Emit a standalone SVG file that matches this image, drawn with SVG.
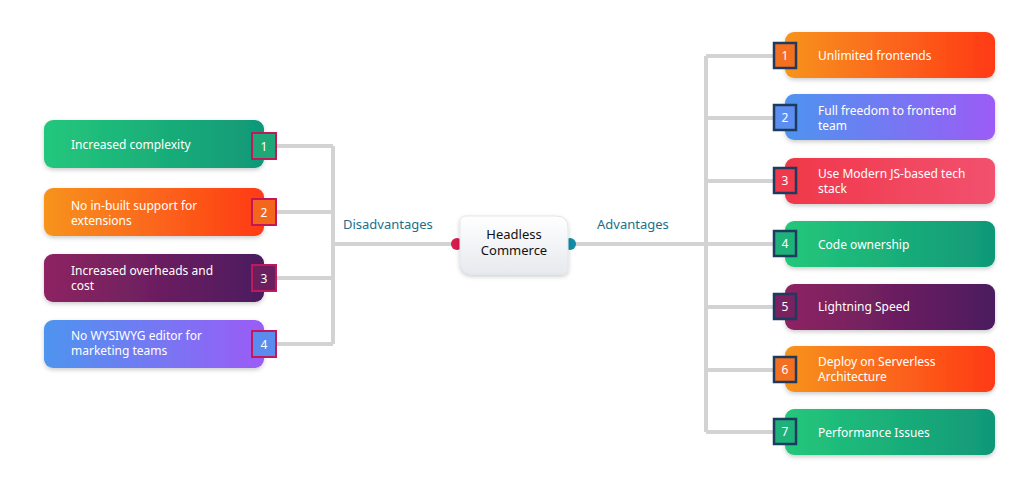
<svg xmlns="http://www.w3.org/2000/svg" width="1024" height="488" viewBox="0 0 1024 488">
<defs>
<linearGradient id="gGreen" x1="0" x2="1"><stop offset="0" stop-color="#24c77b"/><stop offset="1" stop-color="#109878"/></linearGradient>
<linearGradient id="gOrange" x1="0" x2="1"><stop offset="0" stop-color="#f7931e"/><stop offset="1" stop-color="#ff3a17"/></linearGradient>
<linearGradient id="gPurple" x1="0" x2="1"><stop offset="0" stop-color="#8e2462"/><stop offset="1" stop-color="#4b1a5e"/></linearGradient>
<linearGradient id="gBlue" x1="0" x2="1"><stop offset="0" stop-color="#4e94ef"/><stop offset="1" stop-color="#9b5cf6"/></linearGradient>
<linearGradient id="gRed" x1="0" x2="1"><stop offset="0" stop-color="#f0384a"/><stop offset="1" stop-color="#f2516f"/></linearGradient>
<linearGradient id="gCenter" x1="0" y1="0" x2="0" y2="1"><stop offset="0" stop-color="#ffffff"/><stop offset="1" stop-color="#e6e9ee"/></linearGradient>
<filter id="sh" x="-10%" y="-20%" width="120%" height="150%"><feDropShadow dx="0" dy="2" stdDeviation="2" flood-color="#000" flood-opacity="0.2"/></filter>
</defs>
<style>
.t{font-family:"Noto Sans","Liberation Sans",sans-serif;font-size:12px;fill:#fff}
.n{font-family:"Noto Sans","Liberation Sans",sans-serif;font-size:12px;fill:#fff;text-anchor:middle}
.lbl{font-family:"Noto Sans","Liberation Sans",sans-serif;font-size:13px;fill:#1b6f8a}
.c{font-family:"Noto Sans","Liberation Sans",sans-serif;font-size:13px;fill:#111;text-anchor:middle}
.ln{stroke:#d3d3d3;stroke-width:4;fill:none}
.bl{stroke:#c2185b;stroke-width:2}
.br{stroke:#1f3a5f;stroke-width:2.5}
</style>
<rect width="1024" height="488" fill="#fff"/>
<g id="connectors">
<path class="ln" d="M277 146H333M277 212H333M277 278H333M277 344H333M333 146V344M333 244H455"/>
<path class="ln" d="M572 244H706M706 56V432M706 56H773M706 118H773M706 181H773M706 244H773M706 307H773M706 370H773M706 432H773"/>
</g>
<text class="lbl" x="343" y="229">Disadvantages</text>
<text class="lbl" x="597" y="229">Advantages</text>
<g id="center">
<circle cx="457" cy="244" r="6" fill="#d81b4e"/>
<circle cx="570" cy="244" r="6" fill="#138da5"/>
<path d="M466 216H556Q568 216 568 228V268Q568 274 562 274H472Q460 274 460 262V222Q460 216 466 216Z" fill="url(#gCenter)" filter="url(#sh)" stroke="#e2e5ea"/>
<text class="c" x="514" y="239">Headless</text>
<text class="c" x="514" y="255">Commerce</text>
</g>
<g id="d1"><rect x="44" y="120" width="220" height="48" rx="9" fill="url(#gGreen)" filter="url(#sh)"/><text class="t" x="71" y="149">Increased complexity</text>
<rect class="bl" x="252" y="133" width="24" height="26" fill="#1ea877"/><text class="n" x="264" y="151">1</text></g>
<g id="d2"><rect x="44" y="188" width="220" height="48" rx="9" fill="url(#gOrange)" filter="url(#sh)"/><text class="t" x="71" y="210">No in-built support for</text><text class="t" x="71" y="225">extensions</text>
<rect class="bl" x="252" y="199" width="24" height="26" fill="#f4661c"/><text class="n" x="264" y="217">2</text></g>
<g id="d3"><rect x="44" y="254" width="220" height="48" rx="9" fill="url(#gPurple)" filter="url(#sh)"/><text class="t" x="71" y="275">Increased overheads and</text><text class="t" x="71" y="290">cost</text>
<rect class="bl" x="252" y="265" width="24" height="26" fill="#6a1f5e"/><text class="n" x="264" y="283">3</text></g>
<g id="d4"><rect x="44" y="320" width="220" height="48" rx="9" fill="url(#gBlue)" filter="url(#sh)"/><text class="t" x="71" y="340">No WYSIWYG editor for</text><text class="t" x="71" y="355">marketing teams</text>
<rect class="bl" x="252" y="331" width="24" height="26" fill="#5a8cf0"/><text class="n" x="264" y="349">4</text></g>
<g id="a1"><rect x="785" y="32" width="210" height="46" rx="9" fill="url(#gOrange)" filter="url(#sh)"/><text class="t" x="818" y="60">Unlimited frontends</text>
<rect class="br" x="774" y="43" width="22" height="25" fill="#f37021"/><text class="n" x="785" y="60">1</text></g>
<g id="a2"><rect x="785" y="94" width="210" height="46" rx="9" fill="url(#gBlue)" filter="url(#sh)"/><text class="t" x="818" y="115">Full freedom to frontend</text><text class="t" x="818" y="130">team</text>
<rect class="br" x="774" y="105" width="22" height="25" fill="#5b8ef0"/><text class="n" x="785" y="122">2</text></g>
<g id="a3"><rect x="785" y="158" width="210" height="46" rx="9" fill="url(#gRed)" filter="url(#sh)"/><text class="t" x="818" y="178">Use Modern JS-based tech</text><text class="t" x="818" y="193">stack</text>
<rect class="br" x="774" y="168" width="22" height="25" fill="#f03a4c"/><text class="n" x="785" y="185">3</text></g>
<g id="a4"><rect x="785" y="221" width="210" height="46" rx="9" fill="url(#gGreen)" filter="url(#sh)"/><text class="t" x="818" y="249">Code ownership</text>
<rect class="br" x="774" y="231" width="22" height="25" fill="#1eb27a"/><text class="n" x="785" y="248">4</text></g>
<g id="a5"><rect x="785" y="284" width="210" height="46" rx="9" fill="url(#gPurple)" filter="url(#sh)"/><text class="t" x="818" y="311">Lightning Speed</text>
<rect class="br" x="774" y="294" width="22" height="25" fill="#7a2260"/><text class="n" x="785" y="311">5</text></g>
<g id="a6"><rect x="785" y="346" width="210" height="46" rx="9" fill="url(#gOrange)" filter="url(#sh)"/><text class="t" x="818" y="366">Deploy on Serverless</text><text class="t" x="818" y="381">Architecture</text>
<rect class="br" x="774" y="357" width="22" height="25" fill="#f37021"/><text class="n" x="785" y="374">6</text></g>
<g id="a7"><rect x="785" y="409" width="210" height="46" rx="9" fill="url(#gGreen)" filter="url(#sh)"/><text class="t" x="818" y="437">Performance Issues</text>
<rect class="br" x="774" y="419" width="22" height="25" fill="#1eb27a"/><text class="n" x="785" y="436">7</text></g>
</svg>
